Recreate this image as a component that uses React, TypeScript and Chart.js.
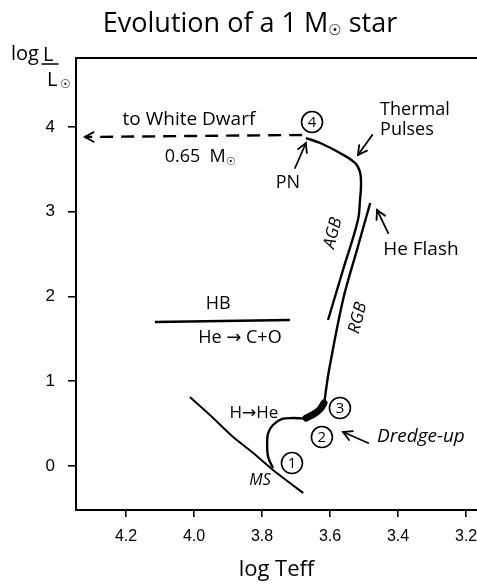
import React, { useEffect, useRef } from 'react';
import { Chart, registerables } from 'chart.js';

Chart.register(...registerables);

// ---- axis ticks ----
const xTickValues = [4.2, 4.0, 3.8, 3.6, 3.4, 3.2];
const yTickValues = [0, 1, 2, 3, 4];

// ---- main sequence line ----
const msTeff = [4.012, 3.953, 3.885, 3.826, 3.768, 3.679];
const msLogL = [0.814, 0.602, 0.342, 0.153, -0.047, -0.319];

// ---- track: MS turn-off -> subgiant -> RGB tip ----
const rgbTeff = [3.768, 3.782, 3.785, 3.782, 3.768, 3.741, 3.709, 3.671, 3.647, 3.629, 3.618, 3.612, 3.603, 3.562, 3.521, 3.482];
const rgbLogL = [-0.024, 0.106, 0.271, 0.389, 0.484, 0.555, 0.566, 0.566, 0.614, 0.673, 0.743, 0.897, 1.133, 1.959, 2.549, 3.103];

// ---- dredge-up blob ----
const dredgeTeff = [3.671, 3.647, 3.629, 3.618];
const dredgeLogL = [0.566, 0.614, 0.673, 0.743];

// ---- AGB and thermal pulses ----
const agbTeff = [3.606, 3.562, 3.518, 3.512, 3.509, 3.512, 3.526, 3.571, 3.629, 3.671];
const agbLogL = [1.723, 2.313, 2.903, 3.139, 3.316, 3.469, 3.575, 3.693, 3.811, 3.870];

// ---- horizontal branch ----
const hbTeff = [4.115, 3.718];
const hbLogL = [1.699, 1.723];

// ---- post-AGB to white dwarf ----
const postAgbTeff = [3.682, 4.321];
const postAgbLogL = [3.906, 3.882];

// ---- numbered stages ----
const stageLabels = ['1', '2', '3', '4'];
const stageTeff = [3.712, 3.624, 3.571, 3.653];
const stageLogL = [0.035, 0.342, 0.684, 4.059];

const FONT = "'Open Sans', 'DejaVu Sans', sans-serif";
const TICK_FONT = "'Liberation Sans', Arial, sans-serif";

type Part = { t: string; s?: number; dy?: number };
type Note = { parts: Part[]; x: number; y: number; size: number; align?: 'left' | 'center'; rot?: number; italic?: boolean };

const notes: Note[] = [
  { parts: [{ t: 'to White Dwarf' }], x: 4.015, y: 4.083, size: 19 },
  { parts: [{ t: '0.65  M' }, { t: '☉', s: 0.6, dy: 5 }], x: 3.982, y: 3.646, size: 18 },
  { parts: [{ t: 'Thermal' }], x: 3.453, y: 4.2, size: 18, align: 'left' },
  { parts: [{ t: 'Pulses' }], x: 3.453, y: 3.965, size: 18, align: 'left' },
  { parts: [{ t: 'PN' }], x: 3.724, y: 3.339, size: 18 },
  { parts: [{ t: 'AGB' }], x: 3.591, y: 2.749, size: 17, rot: -76, italic: true },
  { parts: [{ t: 'RGB' }], x: 3.518, y: 1.746, size: 17, rot: -76, italic: true },
  { parts: [{ t: 'He Flash' }], x: 3.444, y: 2.549, size: 19, align: 'left' },
  { parts: [{ t: 'HB' }], x: 3.929, y: 1.912, size: 18 },
  { parts: [{ t: 'He → C+O' }], x: 3.865, y: 1.51, size: 18 },
  { parts: [{ t: 'H→He' }], x: 3.824, y: 0.625, size: 17 },
  { parts: [{ t: 'Dredge-up' }], x: 3.462, y: 0.342, size: 19, align: 'left', italic: true },
  { parts: [{ t: 'MS' }], x: 3.806, y: -0.165, size: 16, italic: true },
];

const arrows = [
  { from: [3.476, 3.906], to: [3.518, 3.67] },
  { from: [3.703, 3.516], to: [3.671, 3.811] },
  { from: [3.429, 2.749], to: [3.462, 3.021] },
  { from: [3.488, 0.271], to: [3.562, 0.401] },
];

const pts = (xs: number[], ys: number[]) => xs.map((x, i) => ({ x, y: ys[i] }));

function drawParts(ctx: CanvasRenderingContext2D, parts: Part[], size: number, italic: boolean, align: string, cx: number, cy: number, rot: number) {
  const fontFor = (p: Part) => `${italic ? 'italic ' : ''}${Math.round(size * (p.s || 1))}px ${FONT}`;
  let total = 0;
  const widths = parts.map((p) => {
    ctx.font = fontFor(p);
    const w = ctx.measureText(p.t).width;
    total += w;
    return w;
  });
  ctx.save();
  ctx.translate(cx, cy);
  if (rot) ctx.rotate((rot * Math.PI) / 180);
  let x = align === 'left' ? 0 : -total / 2;
  ctx.textAlign = 'left';
  ctx.textBaseline = 'middle';
  ctx.fillStyle = '#000';
  parts.forEach((p, i) => {
    ctx.font = fontFor(p);
    ctx.fillText(p.t, x, p.dy || 0);
    x += widths[i];
  });
  ctx.restore();
}

function arrowHead(ctx: CanvasRenderingContext2D, x1: number, y1: number, x2: number, y2: number, len: number) {
  const a = Math.atan2(y2 - y1, x2 - x1);
  const spread = 0.5;
  ctx.beginPath();
  ctx.moveTo(x2 - len * Math.cos(a - spread), y2 - len * Math.sin(a - spread));
  ctx.lineTo(x2, y2);
  ctx.lineTo(x2 - len * Math.cos(a + spread), y2 - len * Math.sin(a + spread));
  ctx.stroke();
}

const annotate = {
  id: 'annotate',
  beforeDatasetsDraw(chart: any) {
    const { ctx, chartArea } = chart;
    ctx.save();
    ctx.strokeStyle = '#000';
    ctx.lineWidth = 2;
    ctx.beginPath();
    ctx.moveTo(chartArea.left - 1, chartArea.top);
    ctx.lineTo(chartArea.right, chartArea.top);
    ctx.stroke();
    ctx.restore();
  },
  afterDatasetsDraw(chart: any) {
    const { ctx, scales } = chart;
    const xs = scales.x;
    const ys = scales.y;
    const px = (v: number) => xs.getPixelForValue(v);
    const py = (v: number) => ys.getPixelForValue(v);
    ctx.save();
    notes.forEach((n) => drawParts(ctx, n.parts, n.size, !!n.italic, n.align || 'center', px(n.x), py(n.y), n.rot || 0));
    ctx.strokeStyle = '#000';
    ctx.lineWidth = 1.8;
    ctx.lineCap = 'round';
    arrows.forEach((a) => {
      const x1 = px(a.from[0]), y1 = py(a.from[1]), x2 = px(a.to[0]), y2 = py(a.to[1]);
      ctx.beginPath();
      ctx.moveTo(x1, y1);
      ctx.lineTo(x2, y2);
      ctx.stroke();
      arrowHead(ctx, x1, y1, x2, y2, 10);
    });
    const n = postAgbTeff.length;
    arrowHead(ctx, px(postAgbTeff[n - 2]), py(postAgbLogL[n - 2]), px(postAgbTeff[n - 1]), py(postAgbLogL[n - 1]), 10);
    ctx.textAlign = 'center';
    ctx.textBaseline = 'middle';
    ctx.fillStyle = '#000';
    ctx.font = `15px ${FONT}`;
    stageLabels.forEach((s, i) => ctx.fillText(s, px(stageTeff[i]), py(stageLogL[i]) + 1));
    drawParts(ctx, [{ t: 'Evolution of a 1 M' }, { t: '☉', s: 0.55, dy: 7 }, { t: ' star' }], 27, false, 'center', 250, 24, 0);
    ctx.textAlign = 'left';
    ctx.textBaseline = 'alphabetic';
    ctx.font = `20px ${FONT}`;
    ctx.fillText('log', 11, 60);
    ctx.fillText('L', 43, 61);
    ctx.fillText('L', 47, 86);
    ctx.font = `12px ${FONT}`;
    ctx.fillText('☉', 60, 88);
    ctx.lineWidth = 1.6;
    ctx.beginPath();
    ctx.moveTo(42, 64);
    ctx.lineTo(58, 64);
    ctx.stroke();
    ctx.restore();
  },
};

export default function App() {
  const ref = useRef<HTMLCanvasElement | null>(null);
  useEffect(() => {
    if (!ref.current) return;
    const line = (data: any[], extra: any = {}) => ({
      data,
      showLine: true,
      borderColor: '#000',
      backgroundColor: '#000',
      borderWidth: 2.4,
      pointRadius: 0,
      pointHoverRadius: 0,
      fill: false,
      ...extra,
    });
    const chart = new Chart(ref.current, {
      type: 'scatter',
      data: {
        datasets: [
          line(pts(msTeff, msLogL), { label: 'MS', borderWidth: 2, tension: 0.15 }),
          line(pts(rgbTeff, rgbLogL), { label: 'RGB', tension: 0.35 }),
          line(pts(dredgeTeff, dredgeLogL), { label: 'Dredge', borderWidth: 7, tension: 0.3, borderCapStyle: 'round' }),
          line(pts(agbTeff, agbLogL), { label: 'AGB', tension: 0.4 }),
          line(pts(hbTeff, hbLogL), { label: 'HB', borderWidth: 2.6 }),
          line(pts(postAgbTeff, postAgbLogL), { label: 'post-AGB', borderDash: [13, 8] }),
          {
            label: 'stages',
            data: pts(stageTeff, stageLogL),
            showLine: false,
            pointRadius: 10.5,
            pointHoverRadius: 10.5,
            pointBackgroundColor: '#fff',
            pointBorderColor: '#000',
            pointBorderWidth: 1.6,
          },
        ],
      },
      options: {
        responsive: false,
        animation: false,
        events: [],
        layout: { autoPadding: false, padding: { top: 58, left: 0, right: 0, bottom: 0 } },
        plugins: { legend: { display: false }, tooltip: { enabled: false }, title: { display: false } },
        scales: {
          x: {
            type: 'linear',
            reverse: true,
            min: 3.168,
            max: 4.347,
            afterBuildTicks: (axis: any) => {
              axis.ticks = xTickValues.map((v) => ({ value: v }));
            },
            afterFit: (s: any) => {
              s.height = 77;
              s.paddingLeft = 0;
              s.paddingRight = 0;
            },
            ticks: {
              autoSkip: false,
              maxRotation: 0,
              padding: 10,
              color: '#000',
              font: { family: TICK_FONT, size: 16 },
              callback: (v: any) => Number(v).toFixed(1),
            },
            grid: { display: true, drawOnChartArea: false, drawTicks: true, tickLength: 7, color: '#000', lineWidth: 1.6 },
            border: { display: true, color: '#000', width: 2 },
            title: { display: true, text: 'log Teff', color: '#000', font: { family: FONT, size: 22 }, padding: { top: 0, bottom: 4 } },
          },
          y: {
            type: 'linear',
            min: -0.519,
            max: 4.814,
            afterBuildTicks: (axis: any) => {
              axis.ticks = yTickValues.map((v) => ({ value: v }));
            },
            afterFit: (s: any) => {
              s.width = 76;
              s.paddingTop = 0;
              s.paddingBottom = 0;
            },
            ticks: {
              autoSkip: false,
              padding: 13,
              color: '#000',
              font: { family: TICK_FONT, size: 17 },
              callback: (v: any) => String(v),
            },
            grid: { display: true, drawOnChartArea: false, drawTicks: true, tickLength: 8, color: '#000', lineWidth: 1.6 },
            border: { display: true, color: '#000', width: 2 },
          },
        },
      },
      plugins: [annotate],
    } as any);
    return () => chart.destroy();
  }, []);
  return (
    <div style={{ position: 'absolute', left: 0, top: 0, width: 477, height: 587, background: '#fff' }}>
      <canvas ref={ref} width={477} height={587} />
    </div>
  );
}
